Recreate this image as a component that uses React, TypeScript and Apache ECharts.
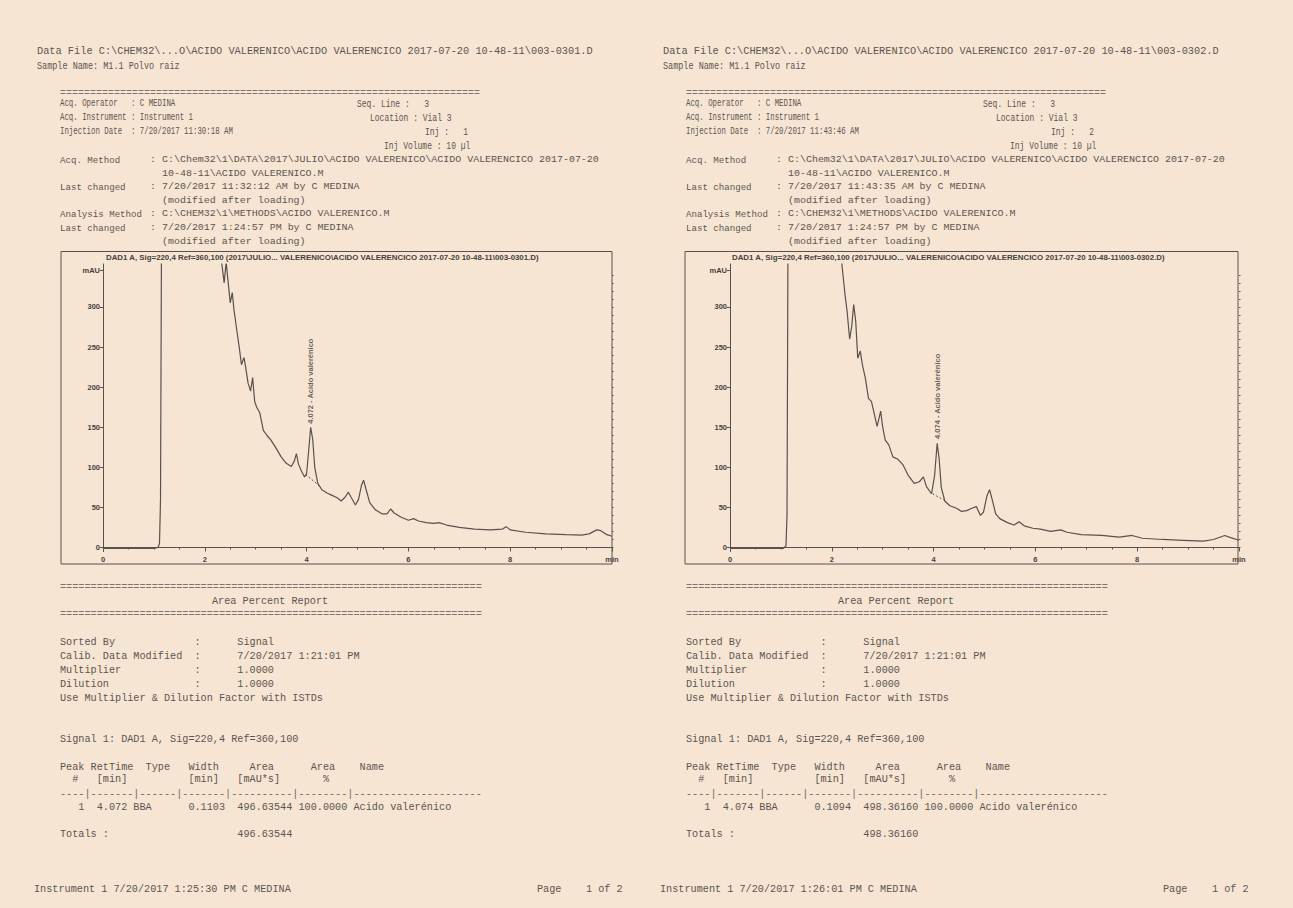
import { useEffect, useRef } from "react";
import * as echarts from "echarts";

const W = 1293;
const H = 908;
const BG = "#f7e5d3";
const INK = "#5a5550";
const LINE = "#58524c";

// ---------- chromatogram data (min, mAU) ----------
const leftTimes = [0, 0.5, 1.0, 1.08, 1.11, 1.13, 1.15, 2.3, 2.33, 2.38, 2.42, 2.46, 2.5, 2.54, 2.57, 2.62, 2.68, 2.72, 2.77, 2.8, 2.85, 2.9, 2.94, 2.98, 3.02, 3.08, 3.15, 3.22, 3.3, 3.4, 3.5, 3.6, 3.7, 3.76, 3.8, 3.84, 3.9, 3.96, 4.0, 4.04, 4.08, 4.12, 4.16, 4.22, 4.3, 4.4, 4.5, 4.6, 4.68, 4.76, 4.82, 4.88, 4.96, 5.02, 5.08, 5.12, 5.17, 5.24, 5.35, 5.48, 5.58, 5.65, 5.72, 5.85, 6.0, 6.1, 6.2, 6.35, 6.5, 6.6, 6.75, 7.0, 7.3, 7.6, 7.85, 7.92, 8.0, 8.3, 8.7, 9.1, 9.4, 9.55, 9.7, 9.78, 9.9, 10.0];
const leftSignal = [-1, -1, -1, 0, 5, 60, 400, 400, 356, 330, 356, 330, 305, 318, 298, 275, 248, 228, 237, 226, 205, 195, 212, 182, 175, 168, 146, 140, 134, 124, 113, 105, 101, 108, 117, 104, 95, 88, 92, 120, 150, 135, 100, 80, 72, 68, 65, 62, 58, 63, 69, 62, 53, 60, 78, 84, 72, 56, 47, 42, 42, 48, 43, 38, 34, 36, 33, 31, 30, 31, 28, 25, 23, 22, 23, 26, 22, 19, 17, 16, 15.5, 17, 22, 21, 16, 14];

const rightTimes = [0, 0.5, 1.05, 1.1, 1.12, 1.14, 2.18, 2.2, 2.26, 2.3, 2.35, 2.39, 2.43, 2.47, 2.51, 2.56, 2.6, 2.66, 2.72, 2.78, 2.84, 2.89, 2.96, 3.0, 3.05, 3.12, 3.2, 3.3, 3.4, 3.5, 3.62, 3.72, 3.8, 3.86, 3.96, 4.02, 4.07, 4.11, 4.15, 4.22, 4.32, 4.45, 4.55, 4.65, 4.75, 4.84, 4.92, 4.98, 5.05, 5.1, 5.15, 5.22, 5.3, 5.45, 5.58, 5.68, 5.78, 5.95, 6.1, 6.3, 6.5, 6.62, 6.9, 7.3, 7.65, 7.9, 8.1, 8.5, 8.9, 9.3, 9.5, 9.72, 9.85, 10.0];
const rightSignal = [-1, -1, -1, 2, 40, 400, 400, 352, 315, 295, 260, 275, 303, 282, 236, 245, 228, 211, 186, 182, 165, 151, 170, 150, 134, 128, 113, 110, 103, 90, 80, 82, 88, 76, 67, 90, 130, 110, 75, 58, 52, 49, 45, 46, 49, 51, 40, 44, 65, 72, 60, 42, 36, 31, 28, 32, 27, 24, 23, 20, 22, 19, 16, 15, 13, 15, 11.5, 10, 9, 8, 10, 15, 12, 9];

// integration baselines under the main peak
const leftBaseTimes = [3.98, 4.27];
const leftBaseSignal = [91, 76];
const rightBaseTimes = [3.98, 4.24];
const rightBaseSignal = [67, 58];

// peak annotations
const peakTimes = [4.072, 4.074];
const peakHeights = [150, 131];
const peakName = "Acido valerénico";

// axes
const yTickValues = [0, 50, 100, 150, 200, 250, 300];
const yUnitValue = 346;
const yMinorValues = [0, 10, 20, 30, 40, 50, 60, 70, 80, 90, 100, 110, 120, 130, 140, 150, 160, 170, 180, 190, 200, 210, 220, 230, 240, 250, 260, 270, 280, 290, 300, 310, 320, 330, 340];
const X_MIN = 0;
const X_MAX = 10;
const X_STEP = 2;
const Y_MIN = -5;
const Y_MAX = 353.6;

// ---------- report texts ----------
const fileIds = ["003-0301.D", "003-0302.D"];
const injectionDates = ["7/20/2017 11:30:18 AM", "7/20/2017 11:43:46 AM"];
const injNumbers = ["1", "2"];
const methodChanged = ["7/20/2017 11:32:12 AM by C MEDINA", "7/20/2017 11:43:35 AM by C MEDINA"];
const peakWidths = ["0.1103", "0.1094"];
const peakAreas = ["496.63544", "498.36160"];
const footerTimes = ["7/20/2017 1:25:30 PM", "7/20/2017 1:26:01 PM"];

const MONO = '"Liberation Mono", "DejaVu Sans Mono", monospace';
const SANS = '"Liberation Sans", Arial, sans-serif';

function cols(parts: [number, string][]): string {
  let s = "";
  for (const [c, t] of parts) {
    while (s.length < c) s += " ";
    s += t;
  }
  return s;
}

function txt(x: number, y: number, text: string, o: any = {}) {
  return {
    type: "text",
    x,
    y,
    scaleX: o.sx ?? 1,
    silent: true,
    style: {
      text,
      fill: o.fill ?? INK,
      font: o.font ?? `${o.fs ?? 10}px ${MONO}`,
      align: o.align ?? "left",
      verticalAlign: "middle",
    },
  };
}

function pageGraphics(i: number) {
  const dx = i * 626;
  const g: any[] = [];
  const S1 = 0.74;
  const S2 = 0.8;
  g.push(txt(37 + dx, 52, `Data File C:\\CHEM32\\...O\\ACIDO VALERENICO\\ACIDO VALERENCICO 2017-07-20 10-48-11\\${fileIds[i]}`, { sx: 1.03 }));
  g.push(txt(37 + dx, 66, "Sample Name: M1.1 Polvo raiz", { sx: 0.85 }));
  g.push(txt(60 + dx, 93.5, "=".repeat(70), { fill: "#7a746e" }));
  // group 1
  g.push(txt(60 + dx, 104, "Acq. Operator   : C MEDINA", { sx: S1 }));
  g.push(txt(60 + dx, 118, "Acq. Instrument : Instrument 1", { sx: S1 }));
  g.push(txt(60 + dx, 132, `Injection Date  : ${injectionDates[i]}`, { sx: S1 }));
  g.push(txt(357 + dx, 104, "Seq. Line :   3", { sx: S2 }));
  g.push(txt(370 + dx, 118, "Location : Vial 3", { sx: S2 }));
  g.push(txt(425 + dx, 132, "Inj :   " + injNumbers[i], { sx: S2 }));
  g.push(txt(384 + dx, 146, "Inj Volume : 10 µl", { sx: S2 }));
  // group 2
  const rows2: [number, string, string][] = [
    [160, "Acq. Method", ": C:\\Chem32\\1\\DATA\\2017\\JULIO\\ACIDO VALERENICO\\ACIDO VALERENCICO 2017-07-20"],
    [173.5, "", "  10-48-11\\ACIDO VALERENICO.M"],
    [187, "Last changed", ": " + methodChanged[i]],
    [200.5, "", "  (modified after loading)"],
    [214, "Analysis Method", ": C:\\CHEM32\\1\\METHODS\\ACIDO VALERENICO.M"],
    [228, "Last changed", ": 7/20/2017 1:24:57 PM by C MEDINA"],
    [241.5, "", "  (modified after loading)"],
  ];
  for (const [y, label, val] of rows2) {
    if (label) g.push(txt(60 + dx, y, label, { fs: 9.8, sx: 0.93 }));
    g.push(txt(150 + dx, y, val, { fs: 9.8, sx: 1.02 }));
  }
  // chart frame and title
  g.push({
    type: "rect",
    silent: true,
    shape: { x: 61 + dx - (i ? 2 : 0), y: 251.5, width: 551 + (i ? 2 : 0), height: 312.5 },
    style: { fill: "none", stroke: LINE, lineWidth: 1 },
  });
  g.push(txt(106 + dx, 257.5, `DAD1 A, Sig=220,4 Ref=360,100 (2017\\JULIO... VALERENICO\\ACIDO VALERENCICO 2017-07-20 10-48-11\\${fileIds[i]})`, { font: `bold 7.5px ${SANS}`, fill: "#46413c", sx: 1.05 }));
  // report
  const RX = 60 + dx;
  const fs = 10.2;
  g.push(txt(RX, 587, "=".repeat(69), { fs, fill: "#7a746e" }));
  g.push(txt(212 + dx, 601, "Area Percent Report", { fs }));
  g.push(txt(RX, 614, "=".repeat(69), { fs, fill: "#7a746e" }));
  g.push(txt(RX, 642, cols([[0, "Sorted By"], [22, ":"], [29, "Signal"]]), { fs }));
  g.push(txt(RX, 656, cols([[0, "Calib. Data Modified"], [22, ":"], [29, "7/20/2017 1:21:01 PM"]]), { fs }));
  g.push(txt(RX, 670, cols([[0, "Multiplier"], [22, ":"], [29, "1.0000"]]), { fs }));
  g.push(txt(RX, 684, cols([[0, "Dilution"], [22, ":"], [29, "1.0000"]]), { fs }));
  g.push(txt(RX, 698, "Use Multiplier & Dilution Factor with ISTDs", { fs }));
  g.push(txt(RX, 739, "Signal 1: DAD1 A, Sig=220,4 Ref=360,100", { fs }));
  g.push(txt(RX, 767, cols([[0, "Peak"], [5, "RetTime"], [14, "Type"], [21, "Width"], [31, "Area"], [41, "Area"], [49, "Name"]]), { fs }));
  g.push(txt(RX, 779, cols([[2, "#"], [6, "[min]"], [21, "[min]"], [29, "[mAU*s]"], [43, "%"]]), { fs }));
  g.push(txt(RX, 794, ["----", "-------", "------", "-------", "----------", "--------", "---------------------"].join("|"), { fs, fill: "#6e6862" }));
  g.push(txt(RX, 807, cols([[3, "1"], [6, peakTimes[i].toFixed(3)], [12, "BBA"], [21, peakWidths[i]], [29, peakAreas[i]], [39, "100.0000"], [48, peakName]]), { fs }));
  g.push(txt(RX, 834, cols([[0, "Totals :"], [29, peakAreas[i]]]), { fs }));
  // footer
  g.push(txt(34 + dx, 889, `Instrument 1 ${footerTimes[i]} C MEDINA`, { fs }));
  g.push(txt(537 + dx, 889, "Page    1 of 2", { fs }));
  return g;
}

function zip(a: number[], b: number[]) {
  return a.map((v, k) => [v, b[k]]);
}

export default function App() {
  const ref = useRef<HTMLDivElement>(null);
  useEffect(() => {
    if (!ref.current) return;
    const chart = echarts.init(ref.current, undefined, { renderer: "svg" });
    const grids = [
      { left: 103, top: 264, width: 509, height: 287.5 },
      { left: 730, top: 264, width: 509, height: 287.5 },
    ];
    const axisFont = { fontSize: 7.5, fontFamily: SANS, fontWeight: "bold" as const, color: "#46413c" };
    const xAxis = grids.map((_, gi) => ({
      type: "value",
      gridIndex: gi,
      min: X_MIN,
      max: X_MAX,
      interval: X_STEP,
      axisLine: { show: true, lineStyle: { color: LINE, width: 1 } },
      axisTick: { show: true, length: 4, lineStyle: { color: LINE } },
      minorTick: { show: true, splitNumber: 4, length: 2, lineStyle: { color: LINE } },
      splitLine: { show: false },
      axisLabel: { ...axisFont, margin: 4, formatter: (v: number) => (v === X_MAX ? "min" : String(v)) },
    }));
    const yAxis: any[] = [];
    grids.forEach((_, gi) => {
      yAxis.push({
        type: "value",
        gridIndex: gi,
        min: Y_MIN,
        max: Y_MAX,
        axisLine: { show: true, lineStyle: { color: LINE, width: 1 } },
        axisTick: { show: true, length: 3, customValues: [...yTickValues, yUnitValue], lineStyle: { color: LINE } },
        axisLabel: {
          ...axisFont,
          margin: 3,
          customValues: [...yTickValues, yUnitValue],
          formatter: (v: number) => (v === yUnitValue ? "mAU" : String(v)),
        },
        splitLine: { show: false },
      });
      yAxis.push({
        type: "value",
        gridIndex: gi,
        min: Y_MIN,
        max: Y_MAX,
        axisLine: { show: false },
        axisTick: { show: true, length: 1.5, customValues: yMinorValues, lineStyle: { color: LINE } },
        axisLabel: { show: false },
        splitLine: { show: false },
      });
    });
    const sets = [
      { t: leftTimes, s: leftSignal, bt: leftBaseTimes, bs: leftBaseSignal },
      { t: rightTimes, s: rightSignal, bt: rightBaseTimes, bs: rightBaseSignal },
    ];
    const series: any[] = [];
    sets.forEach((d, gi) => {
      series.push({
        type: "line",
        xAxisIndex: gi,
        yAxisIndex: gi * 2,
        data: zip(d.t, d.s),
        showSymbol: false,
        symbol: "none",
        clip: true,
        silent: true,
        lineStyle: { color: LINE, width: 1.2 },
      });
      series.push({
        type: "line",
        xAxisIndex: gi,
        yAxisIndex: gi * 2,
        data: zip(d.bt, d.bs),
        symbol: "none",
        silent: true,
        lineStyle: { color: LINE, width: 1, type: [2, 2] },
      });
      series.push({
        type: "scatter",
        xAxisIndex: gi,
        yAxisIndex: gi * 2,
        data: [[peakTimes[gi], peakHeights[gi]]],
        symbol: "circle",
        symbolSize: 1,
        silent: true,
        itemStyle: { color: "rgba(0,0,0,0)" },
        label: {
          show: true,
          position: "top",
          distance: 3,
          rotate: 90,
          align: "left",
          verticalAlign: "middle",
          formatter: `${peakTimes[gi].toFixed(3)} - ${peakName}`,
          fontSize: 7.5,
          fontWeight: "bold",
          fontFamily: SANS,
          color: "#3f3a35",
        },
      });
    });
    chart.setOption({
      animation: false,
      backgroundColor: BG,
      grid: grids,
      xAxis,
      yAxis,
      series,
      graphic: [...pageGraphics(0), ...pageGraphics(1)],
    });
    return () => chart.dispose();
  }, []);
  return (
    <div
      ref={ref}
      style={{ position: "absolute", left: 0, top: 0, width: W, height: H, background: BG }}
    />
  );
}
